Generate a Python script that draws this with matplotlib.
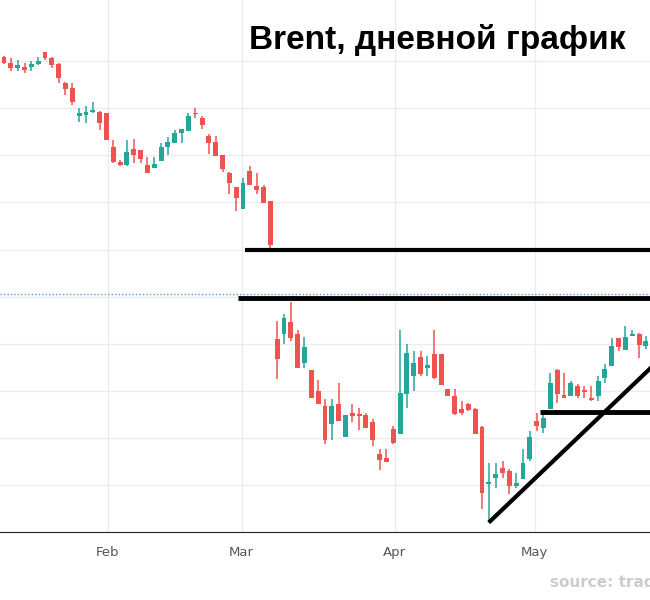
import numpy as np
import matplotlib
matplotlib.use('Agg')
from matplotlib import pyplot as plt

# daily candles (open, high, low, close)
opens = [80.09, 79.96, 79.85, 79.87, 79.87, 79.94, 80.19, 80.07, 79.94, 79.53,
         79.43, 78.83, 78.85, 78.92, 78.92, 78.90, 78.17, 77.85, 77.79, 78.13,
         78.11, 77.79, 77.73, 77.87, 78.17, 78.26, 78.47, 78.51, 78.90, 78.79,
         78.41, 78.28, 78.00, 77.62, 77.32, 76.87, 77.66, 77.34, 77.32, 77.04,
         74.11, 74.21, 74.47, 74.21, 73.58, 73.45, 73.00, 72.68, 72.30, 72.72,
         72.02, 72.53, 72.51, 72.49, 72.34, 71.66, 71.57, 72.19, 72.09, 72.94,
         73.32, 73.72, 73.49, 73.79, 73.79, 73.04, 72.89, 72.62, 72.72, 72.62,
         72.23, 71.02, 71.15, 71.36, 71.30, 70.98, 71.13, 71.55, 72.36, 72.21,
         72.62, 73.45, 72.92, 72.89, 73.11, 73.00, 72.85, 72.89, 73.28, 73.53,
         74.13, 73.87, 74.17, 74.21, 73.96]
highs = [80.11, 80.07, 80.02, 79.96, 80.00, 80.09, 80.19, 80.09, 79.96, 79.55,
         79.53, 79.00, 79.04, 79.13, 78.94, 78.90, 78.32, 77.90, 78.32, 78.34,
         78.11, 77.96, 77.96, 78.26, 78.38, 78.53, 78.55, 78.90, 79.00, 78.83,
         78.45, 78.41, 78.00, 77.64, 77.32, 77.51, 77.77, 77.62, 77.36, 77.04,
         74.49, 74.62, 74.89, 74.30, 74.15, 73.45, 73.23, 72.83, 72.83, 73.17,
         72.49, 72.72, 72.64, 72.53, 72.40, 71.77, 71.77, 72.26, 74.28, 74.00,
         73.85, 73.85, 73.74, 74.28, 73.79, 73.04, 73.04, 72.79, 72.75, 72.64,
         72.26, 71.47, 71.47, 71.51, 71.34, 71.26, 71.77, 72.15, 72.53, 72.51,
         73.38, 73.47, 73.38, 73.21, 73.15, 73.11, 73.11, 73.32, 73.57, 74.13,
         74.13, 74.38, 74.28, 74.23, 74.17]
lows = [79.94, 79.79, 79.79, 79.75, 79.79, 79.92, 80.02, 79.85, 79.53, 79.28,
        79.07, 78.70, 78.68, 78.90, 78.53, 78.32, 77.83, 77.77, 77.77, 77.83,
        77.83, 77.62, 77.73, 77.87, 78.00, 78.26, 78.26, 78.51, 78.79, 78.55,
        78.02, 77.98, 77.64, 77.17, 76.81, 76.87, 77.36, 77.17, 76.98, 76.04,
        73.26, 74.00, 74.06, 73.49, 73.49, 72.85, 72.72, 71.87, 71.96, 72.36,
        72.02, 72.34, 72.17, 72.21, 71.83, 71.32, 71.49, 71.87, 72.09, 72.64,
        73.00, 73.32, 73.32, 73.26, 73.13, 72.89, 72.49, 72.49, 72.58, 72.09,
        70.49, 70.23, 70.94, 71.15, 70.81, 70.94, 71.13, 71.51, 72.15, 72.11,
        72.62, 72.75, 72.85, 72.89, 72.85, 72.85, 72.79, 72.79, 73.17, 73.53,
        73.85, 73.87, 74.17, 73.70, 73.89]
closes = [79.96, 79.85, 79.92, 79.81, 79.94, 80.00, 80.07, 79.92, 79.64, 79.41,
          79.13, 78.90, 78.92, 78.96, 78.68, 78.32, 77.85, 77.79, 78.07, 78.00,
          77.92, 77.62, 77.81, 78.17, 78.28, 78.47, 78.55, 78.83, 78.87, 78.64,
          78.26, 77.98, 77.70, 77.41, 77.09, 77.41, 77.36, 77.26, 76.98, 76.09,
          73.68, 74.55, 74.13, 73.49, 73.92, 72.85, 72.72, 71.96, 72.68, 72.36,
          72.49, 72.47, 72.47, 72.21, 71.96, 71.53, 71.49, 71.89, 72.96, 73.81,
          73.60, 73.36, 73.55, 73.28, 73.13, 72.89, 72.51, 72.53, 72.60, 72.09,
          70.83, 71.06, 71.23, 71.26, 70.98, 71.04, 71.47, 72.02, 72.26, 72.43,
          73.17, 72.94, 72.85, 73.17, 72.89, 72.98, 72.81, 73.21, 73.47, 73.96,
          73.92, 74.15, 74.21, 73.98, 74.06]

month_pos = [15.2, 34.8, 57.2, 77.7]
month_labels = ['Feb', 'Mar', 'Apr', 'May']

# hand-drawn levels: (start bar, price, width)
levels = [(35.3, 76.00, 3), (34.3, 74.98, 3.5), (78.5, 72.55, 3.5)]
trend = ([71.2, 94.6], [70.23, 73.47])
dotted_level = 75.06

RED = '#ef5350'
GREEN = '#26a69a'

fig = plt.figure(figsize=(6.5, 6), dpi=100)
ax = fig.add_axes([0, 68 / 600, 1, 532 / 600])

x = np.arange(len(opens))
o = np.array(opens)
c = np.array(closes)
colors = [GREEN if cc >= oo else RED for oo, cc in zip(o, c)]
ax.vlines(x, lows, highs, colors=colors, linewidth=1.1, zorder=3)
ax.bar(x, np.maximum(np.abs(c - o), 0.03), bottom=np.minimum(o, c),
       width=0.72, color=colors, zorder=4)

ax.axhline(dotted_level, color='#5b9bd5', linestyle=(0, (1, 1.5)), linewidth=1)
for start, lev, lw in levels:
    ax.plot([start, 95], [lev, lev], color='black', linewidth=lw, zorder=5,
            solid_capstyle='butt')
ax.plot(*trend, color='black', linewidth=3, zorder=5)

ax.set_xlim(-0.59, 94.6)
ax.set_ylim(70.0, 81.3)
ax.set_yticks(np.arange(70, 81, 1))
ax.set_xticks(month_pos)
ax.set_xticklabels(month_labels, color='#555555', fontsize=9.5)
ax.tick_params(axis='y', left=False, labelleft=False)
ax.tick_params(axis='x', length=0, pad=10)
ax.grid(True, color='#ececec', linewidth=1)
ax.set_axisbelow(True)
for s in ['left', 'right', 'top']:
    ax.spines[s].set_visible(False)
ax.spines['bottom'].set_color('#222222')

fig.text(249 / 650, 1 - 40 / 600, 'Brent, дневной график', fontsize=24,
         fontweight='bold', family='Liberation Sans', va='center', ha='left')
fig.text(550 / 650, 1 - 583 / 600, 'source: tradingview', fontsize=11,
         fontweight='bold', color='#cccccc', va='center', ha='left')

fig.savefig('out.png')
